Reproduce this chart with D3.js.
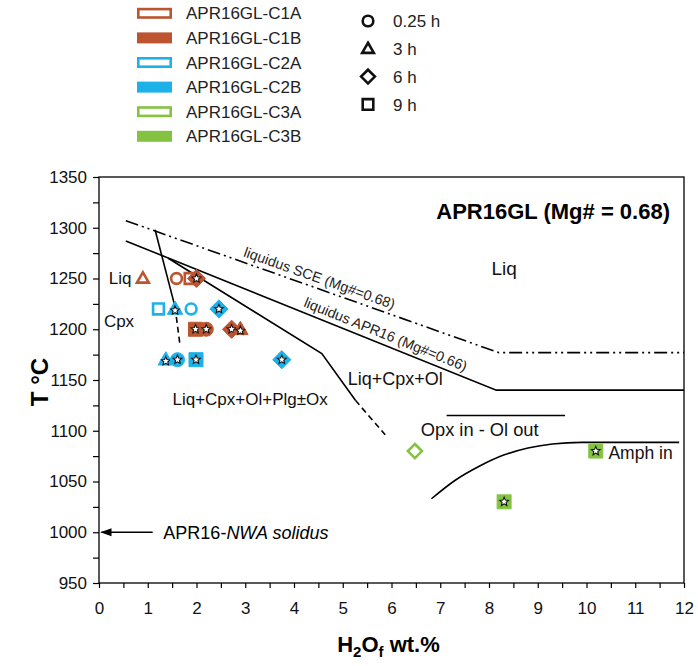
<!DOCTYPE html>
<html><head><meta charset="utf-8">
<script src="https://cdn.jsdelivr.net/npm/d3@7"></script>
<style>body{margin:0;background:#fff} svg{display:block;font-family:"Liberation Sans",Arial,sans-serif}</style>
</head><body><svg id="c" width="698" height="666"></svg>
<script>
// ---------- data ----------
const seriesNames = ["APR16GL-C1A","APR16GL-C1B","APR16GL-C2A","APR16GL-C2B","APR16GL-C3A","APR16GL-C3B"];
const durationLabels = ["0.25 h","3 h","6 h","9 h"];
const durationShapes = ["circle","triangle","diamond","square"];
// each point: [H2O wt.%, T °C, shape]
const c1a = [[0.9,1250,"triangle"],[1.59,1250,"circle"],[1.87,1250,"square"]];
const c1b = [[2.0,1250,"diamond"],[1.98,1200,"square"],[2.2,1200,"circle"],[2.72,1200,"diamond"],[2.9,1200,"triangle"]];
const c2a = [[1.22,1220,"square"],[1.89,1220,"circle"]];
const c2b = [[1.56,1220,"triangle"],[2.46,1220,"diamond"],[1.37,1170,"triangle"],[1.61,1170,"circle"],[1.99,1170,"square"],[3.75,1170,"diamond"]];
const c3a = [[6.48,1080,"diamond"]];
const c3b = [[10.19,1080,"square"],[8.31,1030,"square"]];
const xTicks = [0,1,2,3,4,5,6,7,8,9,10,11,12];
const yTicks = [950,1000,1050,1100,1150,1200,1250,1300,1350];
// phase boundaries [H2O, T]
const liquidusSCE = [[0.55,1307],[8.2,1177],[12,1177]];
const liquidusAPR16 = [[0.55,1287],[8.15,1140],[12,1140]];
const olBoundarySolid = [[1.42,1270],[4.57,1176],[5.26,1130]];
const olBoundaryDashed = [[5.26,1130],[5.87,1096]];
const cpxBoundarySolid = [[1.15,1298],[1.56,1222]];
const cpxBoundaryDashed = [[1.56,1222],[1.66,1185]];
const opxLine = [[7.13,1115],[9.56,1115]];
const amphCurve = [[6.82,1033],[7.3,1051],[7.8,1065],[8.3,1076],[8.8,1083],[9.3,1087],[9.9,1088.5],[11.9,1088.5]];
const solidusT = 1000;

// ---------- setup ----------
const svg = d3.select("#c");
const X0=99, X1=684, Y0=177, Y1=583;
const x = d3.scaleLinear().domain([0,12]).range([X0,X1]);
const y = d3.scaleLinear().domain([950,1350]).range([Y1,Y0]);
const C1="#bc5430", C2="#1cb1e9", C3="#84c341";
const seriesColors=[C1,C1,C2,C2,C3,C3];
const seriesFilled=[false,true,false,true,false,true];

function shapePath(type, s){ // s = half size
  if(type==="circle") return `M${s},0A${s},${s} 0 1,1 ${-s},0A${s},${s} 0 1,1 ${s},0Z`;
  if(type==="square") return `M${-s},${-s}H${s}V${s}H${-s}Z`;
  if(type==="diamond"){const d=s*1.3;return `M0,${-d}L${d},0L0,${d}L${-d},0Z`;}
  if(type==="triangle"){const h=s*1.9;return `M0,${-h*0.6}L${s*1.1},${h*0.4}L${-s*1.1},${h*0.4}Z`;}
}
function starPath(R,r){
  let p="";for(let i=0;i<10;i++){const a=-Math.PI/2+i*Math.PI/5;const rr=i%2?r:R;p+=(i?"L":"M")+(rr*Math.cos(a)).toFixed(2)+","+(rr*Math.sin(a)).toFixed(2);}return p+"Z";
}

// ---------- axes ----------
const g = svg.append("g");
g.append("rect").attr("x",X0).attr("y",Y0).attr("width",X1-X0).attr("height",Y1-Y0).attr("fill","none").attr("stroke","#000").attr("stroke-width",1.3);
const xAxis = d3.axisBottom(x).tickValues(d3.range(0,12.01,0.5)).tickSize(5).tickFormat(d=>xTicks.includes(d)?d:"");
const gx = g.append("g").attr("transform",`translate(0,${Y1})`).call(xAxis);
gx.select(".domain").remove();
gx.selectAll("line").attr("stroke","#000").attr("stroke-width",1.2);
gx.selectAll("text").attr("font-size",17).attr("font-family","Liberation Sans, Arial").attr("fill","#111").attr("dy","1.35em");
const yAxis = d3.axisLeft(y).tickValues(d3.range(950,1350.1,25)).tickSize(6).tickFormat(d=>yTicks.includes(d)?d:"");
const gy = g.append("g").attr("transform",`translate(${X0},0)`).call(yAxis);
gy.select(".domain").remove();
gy.selectAll("line").attr("stroke","#000").attr("stroke-width",1.2);
gy.selectAll("text").attr("font-size",17).attr("font-family","Liberation Sans, Arial").attr("fill","#111").attr("x",-12);

svg.append("text").attr("transform",`translate(48,${(Y0+Y1)/2+2}) rotate(-90)`).attr("text-anchor","middle")
  .attr("font-size",24).attr("font-weight","bold").text("T °C");
const xt = svg.append("text").attr("x",(X0+X1)/2-3).attr("y",652).attr("text-anchor","middle").attr("font-size",22).attr("font-weight","bold");
xt.append("tspan").text("H");
xt.append("tspan").text("2").attr("font-size",15).attr("dy",5);
xt.append("tspan").text("O").attr("dy",-5);
xt.append("tspan").text("f").attr("font-size",15).attr("dy",5);
xt.append("tspan").text(" wt.%").attr("dy",-5);

// ---------- lines ----------
const line = d3.line().x(d=>x(d[0])).y(d=>y(d[1]));
const lg = svg.append("g").attr("fill","none").attr("stroke","#000").attr("stroke-width",1.6);
lg.append("path").attr("d",line(liquidusSCE)).attr("stroke-dasharray","13,4,2,4,2,4");
lg.append("path").attr("d",line(liquidusAPR16));
lg.append("path").attr("d",line(olBoundarySolid));
lg.append("path").attr("d",line(olBoundaryDashed)).attr("stroke-dasharray","6,4");
lg.append("path").attr("d",line(cpxBoundarySolid));
lg.append("path").attr("d",line(cpxBoundaryDashed)).attr("stroke-dasharray","6,4");
lg.append("path").attr("d",line(opxLine));
lg.append("path").attr("d",d3.line().x(d=>x(d[0])).y(d=>y(d[1])).curve(d3.curveMonotoneX)(amphCurve));

// solidus arrow
svg.append("defs").append("marker").attr("id","ah").attr("viewBox","0 0 10 10").attr("refX",9).attr("refY",5)
  .attr("markerWidth",7).attr("markerHeight",7).attr("orient","auto-start-reverse")
  .append("path").attr("d","M0,1.5L10,5L0,8.5Z").attr("fill","#000");
svg.append("line").attr("x1",x(1.1)).attr("x2",x(0.05)).attr("y1",y(solidusT)).attr("y2",y(solidusT))
  .attr("stroke","#000").attr("stroke-width",1.6).attr("marker-end","url(#ah)");
const st = svg.append("text").attr("x",x(1.32)).attr("y",y(solidusT)).attr("dy","0.35em").attr("font-size",18);
st.append("tspan").text("APR16-");
st.append("tspan").text("NWA solidus").attr("font-style","italic");

// rotated liquidus labels
function alongLabel(pts, tx, text, off){
  const [a,b]=pts; const ang=Math.atan2(y(b[1])-y(a[1]), x(b[0])-x(a[0]))*180/Math.PI;
  const t = a[1]+(b[1]-a[1])*(tx-a[0])/(b[0]-a[0]);
  svg.append("text").attr("transform",`translate(${x(tx)},${y(t)}) rotate(${ang}) translate(0,${off})`)
    .attr("text-anchor","middle").attr("font-size",14.3).attr("fill","#222").text(text);
}
alongLabel(liquidusSCE, 4.45, "liquidus SCE (Mg#=0.68)", -5.5);
alongLabel(liquidusAPR16, 5.8, "liquidus APR16 (Mg#=0.66)", -5.5);

// region labels
const labels = [
  {t:"Liq", h:0.2, T:1250, a:"start", s:17},
  {t:"Cpx", h:0.1, T:1208, a:"start", s:17},
  {t:"Liq", h:8.05, T:1260, a:"start", s:19},
  {t:"Liq+Cpx+Ol", h:5.1, T:1151, a:"start", s:18},
  {t:"Liq+Cpx+Ol+Plg±Ox", h:3.1, T:1131, a:"middle", s:17},
  {t:"Opx in - Ol out", h:6.6, T:1101, a:"start", s:18.3},
  {t:"Amph in", h:10.45, T:1078, a:"start", s:17.5}
];
svg.append("g").selectAll("text").data(labels).join("text")
  .attr("x",d=>x(d.h)).attr("y",d=>y(d.T)).attr("dy","0.35em").attr("text-anchor",d=>d.a)
  .attr("font-size",d=>d.s).attr("fill","#111").text(d=>d.t);
svg.append("text").attr("x",X1-14).attr("y",Y0+42).attr("text-anchor","end").attr("font-size",22).attr("font-weight","bold").text("APR16GL (Mg# = 0.68)");

// ---------- points ----------
const allSeries=[c1a,c1b,c2a,c2b,c3a,c3b];
const pg = svg.append("g");
allSeries.forEach((pts,i)=>{
  pts.forEach(p=>{
    const gg = pg.append("g").attr("transform",`translate(${x(p[0])},${y(p[1])})`);
    if(seriesFilled[i]){
      gg.append("path").attr("d",shapePath(p[2],7)).attr("fill",seriesColors[i]).attr("stroke",seriesColors[i]).attr("stroke-width",1).attr("stroke-linejoin","round");
      gg.append("path").attr("d",starPath(4.6,2.1)).attr("fill","#fff").attr("stroke","#111").attr("stroke-width",1.1).attr("transform",p[2]==="triangle"?"translate(0,1.5)":null);
    } else {
      gg.append("path").attr("d",shapePath(p[2],5.4)).attr("fill","#fff").attr("stroke",seriesColors[i]).attr("stroke-width",2.6);
    }
  });
});

// ---------- legends ----------
const leg = svg.append("g");
seriesNames.forEach((n,i)=>{
  const yy = 13.3 + i*24.6;
  if(seriesFilled[i]) leg.append("rect").attr("x",137).attr("y",yy-5.5).attr("width",35).attr("height",11).attr("fill",seriesColors[i]);
  else leg.append("rect").attr("x",138.3).attr("y",yy-4.2).attr("width",32.4).attr("height",8.4).attr("fill","#fff").attr("stroke",seriesColors[i]).attr("stroke-width",2.6);
  leg.append("text").attr("x",186).attr("y",yy).attr("dy","0.36em").attr("font-size",17).attr("fill","#222").text(n);
});
durationLabels.forEach((n,i)=>{
  const yy = 21 + i*27.8;
  leg.append("path").attr("transform",`translate(368,${yy})`).attr("d",shapePath(durationShapes[i],5.3)).attr("fill","none").attr("stroke","#111").attr("stroke-width",2.6);
  leg.append("text").attr("x",393).attr("y",yy).attr("dy","0.36em").attr("font-size",17).attr("fill","#222").text(n);
});
</script></body></html>
